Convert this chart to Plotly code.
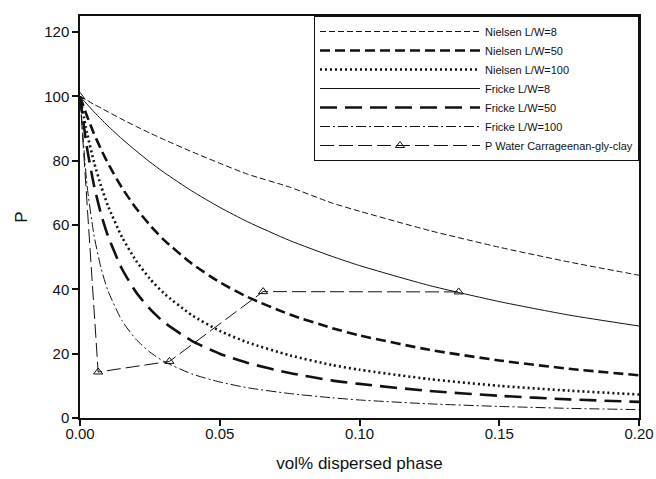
import plotly.graph_objects as go

# volume fraction grid (x)
phi = [0, 0.0025, 0.005, 0.0075, 0.01, 0.015, 0.02, 0.025, 0.03, 0.04, 0.05,
       0.06, 0.075, 0.09, 0.1, 0.125, 0.15, 0.175, 0.2]

nielsen_8 = [100, 98.8, 97.5, 96.4, 95.2, 92.9, 90.7, 88.6, 86.6, 82.8, 79.2,
             75.8, 71.8, 66.9, 64.3, 58.3, 53.1, 48.5, 44.4]
nielsen_50 = [100, 93.9, 88.4, 83.6, 79.2, 71.6, 65.3, 60.0, 55.4, 48.0, 42.2,
              37.6, 32.2, 28.0, 25.7, 21.2, 17.9, 15.3, 13.3]
nielsen_100 = [100, 88.7, 79.6, 72.2, 66.0, 56.3, 49.0, 43.3, 38.8, 32.0, 27.1,
               23.5, 19.5, 16.5, 15.0, 12.1, 10.0, 8.5, 7.3]
fricke_8 = [100, 97.6, 95.2, 93.0, 90.8, 86.8, 83.1, 79.6, 76.4, 70.6, 65.5,
            61.0, 55.2, 50.3, 47.4, 41.2, 36.2, 32.0, 28.6]
fricke_50 = [100, 84.0, 72.4, 63.5, 56.6, 46.4, 39.2, 33.9, 29.8, 24.0, 20.0,
             17.1, 14.0, 11.7, 10.6, 8.4, 6.9, 5.8, 5.0]
fricke_100 = [100, 72.5, 56.9, 46.7, 39.6, 30.3, 24.5, 20.5, 17.6, 13.7, 11.2,
              9.4, 7.6, 6.3, 5.6, 4.4, 3.6, 3.0, 2.6]

water_x = [0, 0.0065, 0.032, 0.0655, 0.1355]
water_y = [100, 14.3, 17.6, 39.3, 39.2]

x_ticks = [0, 0.05, 0.10, 0.15, 0.20]
y_ticks = [0, 20, 40, 60, 80, 100, 120]

INK = "#111111"
fig = go.Figure()

curves = [
    ("Nielsen L/W=8", nielsen_8, 1, "6px,3px"),
    ("Nielsen L/W=50", nielsen_50, 2.6, "10px,5px"),
    ("Nielsen L/W=100", nielsen_100, 2.6, "2px,3px"),
    ("Fricke L/W=8", fricke_8, 1, "solid"),
    ("Fricke L/W=50", fricke_50, 2.6, "17px,8px"),
    ("Fricke L/W=100", fricke_100, 1, "10px,3px,2px,3px"),
]
for name, ys, w, dash in curves:
    fig.add_trace(go.Scatter(x=phi, y=ys, mode="lines", name=name,
                             line=dict(color=INK, width=w, dash=dash, shape="spline", smoothing=0.6)))

fig.add_trace(go.Scatter(x=water_x, y=water_y, mode="lines+markers",
                         name="P Water Carrageenan-gly-clay",
                         line=dict(color=INK, width=1, dash="14px,5px"),
                         marker=dict(symbol="triangle-up-open", size=8,
                                     color=INK, line=dict(width=1, color=INK))))

axis_common = dict(showline=True, linecolor=INK, linewidth=1.5, mirror=True,
                   ticks="outside", ticklen=6, tickwidth=1.5, tickcolor=INK,
                   showgrid=False, zeroline=False, automargin=False,
                   tickfont=dict(family="Liberation Sans, Arial", size=15, color=INK))

fig.update_layout(
    width=656, height=479,
    margin=dict(l=80, r=17, t=16, b=61),
    paper_bgcolor="white", plot_bgcolor="white",
    font=dict(family="Liberation Sans, Arial", color=INK),
    xaxis=dict(range=[0, 0.2], tickvals=x_ticks, tickformat=".2f",
               ticklabelstandoff=-5,
               title=dict(text="vol% dispersed phase", font=dict(size=17), standoff=16),
               **axis_common),
    yaxis=dict(range=[0, 125], tickvals=y_ticks,
               title=dict(text="P", font=dict(size=17), standoff=12),
               **axis_common),
    legend=dict(x=1, y=1, xanchor="right", yanchor="top",
                bordercolor=INK, borderwidth=1, bgcolor="white",
                font=dict(size=11), itemwidth=160, tracegroupgap=0),
    showlegend=True,
)

fig.write_html("out.html", config={"displayModeBar": False},
               post_script="document.body.style.margin='0';")
